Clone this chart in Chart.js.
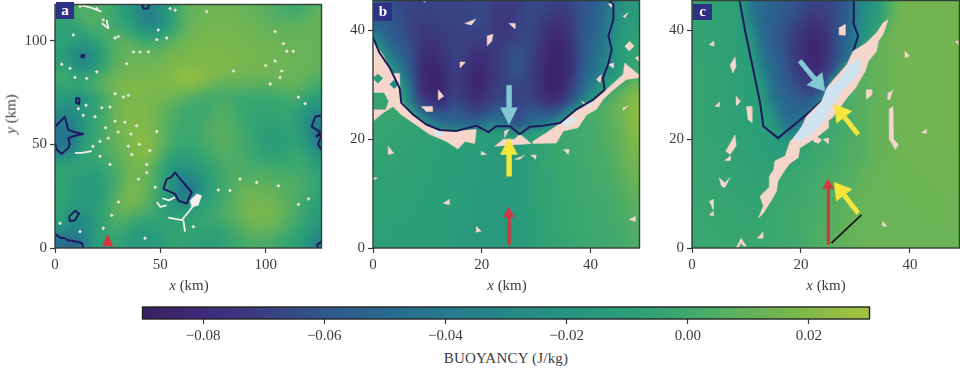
<!DOCTYPE html>
<html>
<head>
<meta charset="utf-8">
<title>Buoyancy panels</title>
<script src="https://cdn.jsdelivr.net/npm/chart.js@4"></script>
<style>
  html, body { margin: 0; padding: 0; background: #fff; }
  body { width: 960px; height: 369px; position: relative; overflow: hidden; font-family: "Liberation Serif", serif; color: #3c3c3c; filter: blur(0.4px); }
  .box { position: absolute; }
  .lab { position: absolute; font-size: 15px; white-space: nowrap; transform: translate(-50%, -50%); }
  .badge { position: absolute; background: #2e3184; color: #fff; font-weight: bold; font-size: 15px; text-align: center; }
</style>
</head>
<body>
<div class="box" style="left:0;top:0;width:330px;height:295px"><canvas id="panelA"></canvas></div>
<div class="box" style="left:330px;top:0;width:320px;height:295px"><canvas id="panelB"></canvas></div>
<div class="box" style="left:650px;top:0;width:310px;height:295px"><canvas id="panelC"></canvas></div>
<div class="box" style="left:100px;top:300px;width:800px;height:48px"><canvas id="cbar"></canvas></div>

<div class="badge" style="left:56px;top:2px;width:18px;height:17px;line-height:16px">a</div>
<div class="badge" style="left:374px;top:3px;width:18px;height:18px;line-height:17px">b</div>
<div class="badge" style="left:693px;top:4px;width:19px;height:16px;line-height:15px">c</div>
<div class="lab" style="left:189px;top:285px"><i>x</i> (km)</div>
<div class="lab" style="left:507px;top:285px"><i>x</i> (km)</div>
<div class="lab" style="left:826px;top:285px"><i>x</i> (km)</div>
<div class="lab" style="left:11px;top:114px;transform:translate(-50%,-50%) rotate(-90deg)"><i>y</i> (km)</div>
<div class="lab" style="left:506px;top:358px;letter-spacing:.2px">BUOYANCY (J/kg)</div>

<script>
// colour bar: value in 0.001 J/kg -> rgb
const cmapValues = [-90, -80, -70, -60, -50, -40, -30, -20, -10, 0, 10, 20, 30];
const cmapColors = [[56,33,98],[62,42,120],[58,62,130],[47,88,140],[40,105,142],[38,122,140],[37,135,135],[38,148,128],[42,158,120],[62,168,110],[100,178,90],[130,185,72],[165,195,60]];
const cbarTicks = [-0.08, -0.06, -0.04, -0.02, 0, 0.02];

// buoyancy grids, top row first, 0.001 J/kg
const aGrid = [
  [0,-3,5,5,3,-5,-15,-28,-35,-25,-8,5,10,12,14,14,12,10,8,6,2,0,3,8],
  [-5,-5,3,5,3,-3,-10,-25,-35,-28,-8,5,12,14,15,15,14,12,10,8,7,6,8,10],
  [-8,-8,-5,0,3,3,-2,-12,-18,-15,-2,8,14,16,16,16,15,14,12,10,10,9,10,10],
  [-8,-12,-15,-10,0,6,8,3,0,2,8,13,15,17,17,17,16,15,14,13,12,11,11,10],
  [-10,-22,-33,-22,-5,6,10,10,10,11,14,16,18,18,18,17,17,16,15,14,13,12,11,10],
  [-8,-18,-28,-18,-3,8,12,13,14,15,17,20,20,20,19,18,17,16,15,14,14,12,12,10],
  [0,-5,-8,-2,6,12,15,16,17,18,20,24,24,21,18,15,14,13,12,12,12,11,9,6],
  [-5,-6,-5,2,8,16,19,19,18,18,18,18,17,12,8,6,6,6,6,6,8,8,5,0],
  [-15,-18,-20,-8,3,12,17,18,16,15,12,8,4,2,2,2,0,-2,-2,-2,0,2,-5,-12],
  [-25,-25,-18,-8,2,12,18,19,17,12,6,2,0,0,3,4,0,-3,-4,-5,-3,-5,-15,-25],
  [-35,-35,-18,-5,3,12,18,20,17,10,4,0,0,2,5,5,1,-4,-6,-7,-5,-8,-22,-38],
  [-45,-42,-20,-5,4,12,18,21,18,10,3,0,0,3,6,6,2,-3,-8,-10,-8,-8,-22,-42],
  [-45,-40,-15,-3,4,10,16,22,20,10,2,-2,-2,2,5,6,3,-2,-8,-12,-10,-8,-15,-38],
  [-30,-25,-8,-3,3,8,14,20,19,6,-5,-8,-6,-2,3,5,3,0,-6,-8,-6,-3,-8,-20],
  [-8,-8,-6,-6,-2,5,12,16,12,0,-12,-18,-15,-8,-1,4,4,2,0,0,-2,0,-3,-10],
  [-5,-8,-12,-12,-6,2,12,14,8,-5,-20,-30,-25,-14,-4,2,5,5,5,4,3,3,0,-5],
  [-6,-10,-14,-14,-8,3,14,16,8,-5,-22,-42,-38,-18,-5,2,8,10,10,8,6,5,2,-5],
  [-6,-10,-14,-14,-6,6,16,14,6,-6,-18,-35,-28,-12,-3,3,10,14,14,12,8,5,0,-8],
  [-8,-15,-18,-12,-3,8,12,8,2,-6,-12,-15,-12,-6,0,5,10,16,17,15,10,4,-3,-10],
  [-12,-25,-28,-15,-3,4,2,-3,-5,-6,-8,-8,-6,-3,0,3,8,14,16,14,8,2,-5,-15],
  [-28,-32,-30,-15,-5,0,-5,-12,-12,-10,-6,-4,-6,-8,-8,-2,4,8,10,8,4,-3,-10,-22],
  [-48,-52,-40,-15,-8,-5,-10,-15,-14,-10,-6,-6,-8,-10,-10,-5,0,3,4,2,-3,-8,-15,-35]
];
const bGrid = [
  [-60,-62,-66,-68,-68,-68,-68,-68,-68,-66,-66,-70,-72,-70,-66,-66,-68,-70,-68,-62,-58,-50,-35,-20,-15],
  [-58,-60,-64,-68,-70,-70,-68,-68,-68,-66,-66,-72,-74,-70,-66,-68,-72,-74,-70,-62,-56,-48,-30,-18,-12],
  [-52,-58,-62,-68,-72,-72,-70,-70,-68,-68,-68,-72,-74,-70,-66,-70,-76,-78,-72,-62,-56,-46,-28,-15,-10],
  [-38,-55,-60,-66,-72,-74,-72,-70,-70,-70,-70,-72,-72,-68,-66,-72,-80,-82,-74,-62,-54,-44,-25,-12,-8],
  [-15,-45,-56,-64,-74,-78,-74,-70,-70,-74,-74,-72,-68,-64,-66,-74,-82,-85,-76,-62,-52,-42,-22,-12,-6],
  [-8,-28,-48,-62,-76,-80,-76,-70,-72,-78,-78,-72,-66,-62,-66,-74,-84,-86,-78,-62,-50,-38,-20,-10,-4],
  [-6,-12,-38,-58,-78,-84,-80,-72,-74,-82,-80,-72,-66,-62,-68,-76,-86,-86,-78,-60,-48,-34,-18,-8,-2],
  [-5,-8,-22,-52,-78,-86,-82,-72,-76,-84,-80,-72,-68,-66,-68,-76,-86,-86,-74,-56,-42,-22,-12,0,8],
  [-2,-3,-8,-46,-74,-84,-82,-70,-74,-82,-78,-70,-68,-68,-68,-74,-84,-82,-68,-50,-30,-10,3,10,18],
  [-2,-3,-5,-35,-66,-76,-76,-66,-70,-76,-72,-66,-66,-68,-66,-70,-76,-72,-58,-36,-8,2,8,14,22],
  [-2,-3,-5,-8,-45,-60,-62,-58,-62,-66,-62,-54,-58,-66,-60,-58,-60,-52,-20,-2,3,5,10,15,24],
  [-3,-4,-5,-6,-8,-35,-46,-48,-50,-50,-42,-36,-46,-62,-50,-42,-40,-10,-2,0,2,5,8,14,22],
  [-4,-5,-5,-6,-7,-8,-8,-8,-10,-10,-10,-12,-14,-18,-12,-8,-4,-2,0,1,2,4,8,13,20],
  [-5,-6,-6,-7,-8,-8,-9,-10,-10,-11,-12,-13,-14,-14,-11,-8,-4,-2,0,1,2,4,7,12,18],
  [-5,-6,-7,-7,-8,-9,-10,-10,-11,-12,-12,-14,-15,-14,-11,-7,-4,-2,-1,1,2,3,6,11,16],
  [-6,-6,-7,-8,-8,-9,-10,-11,-11,-12,-13,-14,-15,-13,-10,-7,-4,-2,-1,0,2,3,5,10,14],
  [-7,-7,-8,-8,-9,-9,-10,-11,-12,-12,-13,-15,-15,-13,-10,-7,-5,-2,-1,0,1,2,4,8,12],
  [-7,-8,-8,-8,-9,-10,-10,-11,-12,-13,-14,-15,-16,-14,-10,-7,-5,-3,-1,0,1,2,3,6,10],
  [-8,-8,-8,-9,-9,-10,-10,-11,-12,-13,-14,-15,-16,-14,-10,-7,-5,-3,-2,0,0,1,3,5,8],
  [-8,-8,-9,-9,-10,-10,-11,-11,-12,-13,-14,-15,-16,-14,-10,-8,-5,-3,-2,-1,0,1,2,4,7],
  [-8,-9,-9,-10,-10,-11,-11,-12,-12,-13,-14,-15,-16,-14,-11,-8,-6,-4,-2,-1,0,0,2,3,6],
  [-9,-9,-10,-10,-10,-11,-11,-12,-13,-14,-14,-15,-16,-14,-11,-8,-6,-4,-3,-1,0,0,1,2,5],
  [-9,-10,-10,-10,-11,-11,-12,-12,-13,-14,-15,-15,-16,-14,-11,-9,-6,-5,-3,-2,-1,0,1,2,4]
];
const cGrid = [
  [-6,-7,-7,-8,-10,-42,-50,-55,-58,-62,-66,-68,-68,-64,-58,-35,-22,-12,5,14,15,15,15,15,15],
  [-6,-7,-7,-8,-10,-40,-50,-55,-60,-64,-70,-72,-70,-64,-56,-32,-20,-10,6,14,15,15,15,15,15],
  [-5,-6,-7,-8,-10,-30,-50,-56,-62,-68,-74,-78,-72,-64,-54,-30,-20,-5,10,14,15,15,15,15,15],
  [-5,-6,-7,-8,-10,-20,-48,-56,-62,-70,-78,-82,-76,-64,-52,-30,-12,8,12,14,15,15,15,15,15],
  [-5,-6,-7,-8,-10,-14,-44,-54,-62,-72,-80,-84,-78,-64,-50,-28,4,10,12,14,15,15,15,15,15],
  [-5,-6,-7,-8,-10,-12,-40,-52,-60,-70,-78,-82,-76,-62,-45,0,8,10,12,14,15,15,15,15,15],
  [-4,-5,-6,-8,-9,-11,-32,-50,-58,-68,-76,-80,-72,-55,0,6,8,10,12,14,15,15,15,15,15],
  [-4,-5,-6,-8,-9,-10,-20,-48,-56,-64,-72,-74,-62,-5,4,6,8,10,12,14,15,15,15,15,15],
  [-4,-5,-6,-7,-8,-10,-14,-44,-54,-60,-66,-64,-50,0,4,6,8,10,12,14,15,15,15,15,15],
  [-4,-5,-6,-7,-8,-10,-12,-38,-50,-54,-56,-50,-10,0,3,6,8,10,12,14,15,15,15,15,15],
  [-4,-5,-6,-7,-8,-9,-11,-25,-46,-50,-48,-35,-5,1,3,6,8,10,12,14,15,15,15,15,15],
  [-4,-5,-6,-7,-8,-9,-11,-14,-40,-44,-35,-10,-2,1,3,6,8,10,12,14,14,15,15,15,15],
  [-4,-5,-6,-7,-8,-9,-10,-12,-22,-30,-8,-4,-1,1,3,5,8,10,12,13,14,14,15,15,15],
  [-3,-4,-5,-6,-7,-8,-10,-11,-14,-10,-6,-2,0,2,4,5,8,10,12,13,14,14,14,15,15],
  [-3,-4,-5,-6,-7,-8,-9,-10,-10,-8,-4,-1,1,2,4,5,8,10,12,13,14,14,14,14,14],
  [-3,-4,-5,-6,-6,-7,-8,-8,-5,-3,-1,0,2,3,5,7,9,11,12,13,13,14,14,14,14],
  [-3,-4,-5,-5,-6,-7,-7,-6,-3,-2,0,1,3,4,6,8,10,11,12,13,13,13,14,14,14],
  [-3,-4,-4,-5,-5,-6,-6,-4,-2,-1,0,2,3,5,7,9,11,12,12,13,13,13,13,14,14],
  [-3,-3,-4,-4,-5,-5,-5,-2,-1,0,1,2,4,6,8,10,11,12,12,12,13,13,13,13,13],
  [-2,-3,-3,-4,-4,-5,-5,-1,0,1,1,3,5,7,9,10,11,12,12,12,12,13,13,13,13],
  [-2,-3,-3,-4,-4,-4,-3,-1,0,1,2,3,5,7,9,11,11,12,12,12,12,12,13,13,13],
  [-2,-2,-3,-3,-3,-3,-2,-1,0,1,2,4,6,8,10,11,11,12,12,12,12,12,12,12,13],
  [-2,-2,-2,-3,-3,-2,-2,-1,0,1,2,4,6,8,10,11,12,12,12,12,12,12,12,12,12]
];

// panel a, km
const aContours = [
  [[0,58.5],[2.5,61],[4.7,63.3],[5.5,60],[6.3,57],[9,56],[13.4,55],[9,54],[6.3,53],[7,50],[6.3,48.3],[3.2,45.4],[0.8,47.5],[0,50.6]],
  [[51.4,28.5],[53,33.2],[55,34],[57,36.4],[60.2,32.4],[64.9,26.9],[63.5,24],[62.5,21.4],[58.5,22.9],[57,26.1],[51.4,28.5]],
  [[6.6,15],[9.5,17.9],[11.4,16.6],[9.5,13.4],[7.1,13],[6.6,15]],
  [[0,6.8],[2.5,5],[4.7,4.7],[6.5,3.6],[9.5,3.2],[12.7,2.4],[13.4,0]],
  [[41,118],[42,115.5],[44,115.5],[45,118]],
  [[10,72.5],[11.6,72],[11.5,69.5],[10,70],[10,72.5]],
  [[12.6,93.2],[13.8,93],[13.6,92],[12.6,92],[12.6,93.2]],
  [[126.7,64],[123.4,63.3],[121.8,58.5],[125.8,56],[124.2,53.8],[126.7,55],[124.8,50],[126.7,47]],
  [[124.5,0],[124.5,1.6],[126.7,3.2]]
];
const aFlecksX = [11.9,19.8,22.9,28.5,30,8.7,34,37.2,40.3,44.3,48.3,53,54.6,57,49,9.5,15,19.8,7.1,3.2,28.5,32.4,34.8,26.1,22.2,11.1,14.7,13.4,19,28.5,33.2,38.8,48.3,25.3,21.4,34.8,36.4,43.5,21.4,26.1,108.4,104.4,110,113.1,104.4,102.1,107.6,106.8,84.7,115.5,118.7,106,115.5,120.3,77.5,87.8,83,95.7,43.5,39.6,47.5,30.1,26.9,22.9,2.4,11.9,42.7,65.7,36,40,30,45,24,18,72,100];
const aFlecksY = [116.6,115.5,110,101.3,102,102.8,88.9,94.6,94.6,94.6,100.5,101.3,115.5,114.7,105.2,82.3,81.8,85,86.6,88.6,74.4,72.8,73.6,68,67.6,67.2,68.8,64,63.3,61.2,60.6,59,56.2,53,51.4,49.1,45.1,40.3,44.3,40.3,98.6,104.4,94.9,94.9,90.2,79.1,85.4,82.3,85.4,72.8,69.6,30,21,23.7,28,33.2,27.7,31.6,36.4,33.2,29.3,22.2,15.8,9.5,11.9,7.9,4.7,10.3,55,50,56,47,58,49,114,88];
const aSquiggles = [
  [[24.5,110],[25.3,106],[22.2,108.4]],
  [[12.7,117],[17,116],[22,114]],
  [[9.5,45.9],[12.7,45.9],[17.4,46.7]],
  [[48.3,22.2],[50,19.8],[53,20.6]],
  [[53.8,14.7],[60.1,13.4],[64,18.2],[66.5,21.4]],
  [[60.9,13.4],[61.7,7.9]],
  [[51,24],[54,23],[57,24.5]]
];
const aBlob = [[64.1,22.9],[67.2,26.1],[69.6,25.3],[68,20.6],[64.9,19.8]];

// panel b, km
const bContour = [[0,38.7],[1.2,35.9],[3.1,33.1],[4.9,29.4],[5.2,26.7],[7.4,24.5],[9.8,22.7],[12.3,21.7],[15.3,21.5],[19,22.5],[21.2,21.3],[22.7,22.4],[25.2,22.4],[27,20.9],[28.8,22.3],[31.3,22.5],[34.4,23],[37.4,25.5],[40.5,27.3],[42.6,29.1],[42.3,31.3],[43.3,34],[43.9,36.5],[43.3,39],[44.2,42],[44.2,44.8],[43.3,45.7]];
const bBand = [
  [[0,38],[1.8,35.6],[3.1,33.1],[3.7,32.1],[4.9,32.1],[5,27.3],[7.4,24.5],[9.8,22.7],[12.3,21.7],[15.3,21.5],[19,21.8],[18.7,19.2],[16.9,19.6],[15.6,18.2],[13.5,19.6],[10.4,20.9],[7.4,23],[5.2,24.5],[3.7,26],[1.8,24.8],[0,23.3]],
  [[22.4,18.7],[24,20],[26,20],[27,20.9],[29.1,19.2]],
  [[24.2,21.5],[25,21.8],[24.2,20.3]],
  [[29.4,19.6],[31.9,21.2],[34.4,22.9],[37.4,25.2],[40.5,27],[42.9,29.1],[46,31.9],[46.3,34],[48.8,31.9],[48.8,31.3],[46.6,31],[44.2,29.1],[42.3,27.3],[41.1,25.5],[39.3,24.5],[37.7,22.1],[35,21.5],[33.7,19.3],[29.4,19.2]]
];
const bPale = [
  [[34.5,22.8],[36.5,24],[37.5,24],[36,22.2]],
  [[11,21.5],[12.5,21.5],[13,20.8],[11.5,20.6]],
  [[39,26.5],[40.5,26.8],[40,25.8]]
];
const bHoles = [
  [[0,31.2],[0.9,32],[1.8,31.2],[0.9,30.3]],
  [[3.1,30.1],[3.9,30.9],[4.7,30.1],[3.9,29.3]],
  [[0,28.5],[2,28.5],[2.8,27],[2.3,25.5],[0,25.5]]
];
const bHoleValues = [-15, -28, -4];
const bSpots = [
  [[16.9,41.3],[18.9,42.1],[18.1,41]],
  [[25,41.3],[26.1,41.3],[26.1,40.3]],
  [[21,39],[22.1,39.3],[21.8,38],[21,37.2]],
  [[16,34.2],[17,34.2],[16,33.1]],
  [[12,29.1],[13,27.9],[12,27.2]],
  [[8.9,26],[10.9,26],[10.9,25.1],[9.8,25.1]],
  [[8.9,45.7],[9.8,45.7],[9.5,45.2]],
  [[43.3,44.8],[44.2,45.2],[43.9,44.2]],
  [[46,42.6],[46.9,43.3],[46.3,42.3]],
  [[46.3,37.1],[47.2,38],[48,37.1],[47.1,36.2]],
  [[48.2,35],[48.8,35.2],[48.8,34.4]],
  [[43.3,33.7],[44.2,34],[44.2,33.1]],
  [[41.1,31],[42,31.9],[41.8,30.4]],
  [[38.3,27],[39.9,26.2],[39.3,25.8]],
  [[46,25.8],[46.9,26.1],[46,25.3]],
  [[2.8,18.7],[3.8,17.4],[2.9,17.2]],
  [[19.9,17.8],[20.9,17.2],[19.9,17.1]],
  [[26.1,16.3],[27.9,17.1],[27,16.3]],
  [[29,17.1],[30,17.1],[29.9,16.3]],
  [[35,18.1],[36.1,18.1],[35.9,17.2]],
  [[0,12.9],[0.8,12.9],[0,12.4]],
  [[12.9,8.2],[14,8.9],[14,8]],
  [[19,4],[19.9,3.1],[19,2.9]],
  [[47.1,5.2],[48.2,5.8],[48.2,4.9]]
];

// panel c, km
const cContour = [[8.7,45.7],[9.7,40.2],[12.5,26.7],[13.1,22.4],[15.8,20.2],[21,24.5],[24.1,27.3]];
const cContour2 = [[29.6,36.2],[30.5,39],[29.6,41.4],[29.7,45.7]];
const cBand = [[12.2,5.5],[13.1,7.7],[12.5,9.5],[14.3,11.3],[14.2,13.2],[15,14.4],[15.2,16],[17.1,16.9],[18,19.6],[19.8,21.5],[21,24.2],[24.1,27.3],[25,29.8],[28.4,33.7],[29.6,36.2],[32,37.7],[33.9,39.6],[35.1,41.4],[36,42],[35.1,39.3],[34.2,38],[33.9,36.2],[32.4,34.4],[31.8,32.5],[30,29.4],[28.6,27.8],[27,25.6],[25.8,24],[25,23.4],[25,22],[23.2,20.6],[21.7,19.6],[19.8,18.4],[19.5,16.6],[18,15.6],[17.1,14.4],[15.8,12.3],[15.5,10.4],[14.3,8.3],[13.1,6.4]];
const cCore = [[18.6,20.2],[21,23.5],[23.6,26.5],[24.8,29.5],[27,31],[28.8,33.8],[30.8,35],[31,33],[29.8,31],[27.8,29.2],[26,26.6],[24.6,23.8],[22.6,21.4],[19.8,19.6]];
const cSpots = [
  [[3.2,37.4],[3.9,38],[4,37.1]],
  [[7,33.7],[7.9,35.1],[8.1,33.4],[7.5,32.2]],
  [[4.2,26],[5,26.8],[5,26]],
  [[8.1,27.9],[8.9,27],[8.2,26.2]],
  [[10,26],[11,26],[11,23.1],[10.3,23.6]],
  [[6.2,17.8],[7.9,20.8],[8.1,18.8],[7,17.2]],
  [[6,16.1],[7,16.9],[7,16.1]],
  [[5,12.9],[6,12],[7,12.9],[6,11.1],[5.4,11.4]],
  [[3.2,8.6],[3.9,8.9],[3.9,7.1]],
  [[3.2,6.1],[3.9,6.7],[3.9,5.9]],
  [[8.1,0],[9,1.8],[10,0.3],[9.4,0.4],[9,0.9],[8.5,0]],
  [[12,1.8],[13,2.9],[13,1.8]],
  [[27,40.5],[28.1,41.1],[28.1,39.1],[27,39.2]],
  [[32,29.1],[33,29.1],[33,28.2],[32,27.3]],
  [[36,28.5],[36.9,29],[36.3,27.3],[35.9,27.3]],
  [[36.2,25.5],[36.9,26],[37,20],[37.9,19],[37.3,18.1],[36.3,19.9]],
  [[42.1,21.2],[43,21.8],[43,21.1]],
  [[39.1,36.2],[39.9,35.3],[39.1,35]],
  [[48.3,38],[49,38],[49,37.4]],
  [[35,4.9],[35.8,4],[35,4]],
  [[22.3,20.8],[23.8,19.9],[23.2,19.2],[22.3,19.6]],
  [[24.1,20],[25,20.2],[25,19.2]]
];
const cSegment = [[25.6,0.9],[31.1,6.1]];

// arrows: tail, tip, head length, head half width, shaft half width (km)
const aArrows = [{ tail: [25,1], tip: [25,6.5], head: 5.5, hw: 2.4, sw: 0.8, color: "#d8323c" }];
const bArrows = [
  { tail: [25,29.9], tip: [25,22.7], head: 3.1, hw: 1.55, sw: 0.42, color: "#84c8d4" },
  { tail: [25,13.2], tip: [25,20.2], head: 3, hw: 1.55, sw: 0.42, color: "#f4e63c" },
  { tail: [25,0.6], tip: [25,7.5], head: 1.8, hw: 1, sw: 0.22, color: "#cf3a40" }
];
const cArrows = [
  { tail: [25,0.6], tip: [25,12.7], head: 1.8, hw: 1, sw: 0.22, color: "#cf3a40" },
  { tail: [30.5,6.4], tip: [26.1,12.1], head: 3, hw: 1.8, sw: 0.42, color: "#f4e63c" },
  { tail: [30.5,20.9], tip: [26.1,26.4], head: 3, hw: 1.8, sw: 0.42, color: "#f4e63c" },
  { tail: [19.8,34.4], tip: [24.4,28.8], head: 3, hw: 1.8, sw: 0.42, color: "#84c8d4" }
];

const PINK = "#f6d5ca";
const NAVY = "#1d1a5e";
const INK = "#333f36";

function cmap(v) {
  let i = 0;
  while (i < cmapValues.length - 2 && v > cmapValues[i + 1]) i++;
  const t = Math.min(1, Math.max(0, (v - cmapValues[i]) / (cmapValues[i + 1] - cmapValues[i])));
  return cmapColors[i].map((c, k) => Math.round(c + (cmapColors[i + 1][k] - c) * t));
}
function rgb(v) { return "rgb(" + cmap(v).join(",") + ")"; }
function toXY(pts) { return pts.map((p) => ({ x: p[0], y: p[1] })); }

function arrowShape(a) {
  const dx = a.tip[0] - a.tail[0], dy = a.tip[1] - a.tail[1];
  const len = Math.hypot(dx, dy), ux = dx / len, uy = dy / len, nx = -uy, ny = ux;
  const bx = a.tip[0] - ux * a.head, by = a.tip[1] - uy * a.head;
  return [
    [a.tail[0] + nx * a.sw, a.tail[1] + ny * a.sw],
    [bx + nx * a.sw, by + ny * a.sw],
    [bx + nx * a.hw, by + ny * a.hw],
    a.tip,
    [bx - nx * a.hw, by - ny * a.hw],
    [bx - nx * a.sw, by - ny * a.sw],
    [a.tail[0] - nx * a.sw, a.tail[1] - ny * a.sw]
  ];
}

function filled(pts, color) {
  const closed = pts.concat([pts[0]]);
  return { data: toXY(closed), showLine: true, fill: "shape", backgroundColor: color, borderColor: color, borderWidth: 0.5, pointRadius: 0, tension: 0 };
}
function stroked(pts, color, width) {
  return { data: toXY(pts), showLine: true, fill: false, borderColor: color, borderWidth: width, pointRadius: 0, tension: 0, borderJoinStyle: "round" };
}

// the heat field goes under the datasets, placed by the chart scales
const heatPlugin = {
  id: "heat",
  beforeDatasetsDraw(chart, args, opts) {
    const grid = opts.grid;
    if (!grid) return;
    const rows = grid.length, cols = grid[0].length;
    const off = document.createElement("canvas");
    off.width = cols; off.height = rows;
    const octx = off.getContext("2d");
    const img = octx.createImageData(cols, rows);
    for (let r = 0; r < rows; r++) {
      for (let c = 0; c < cols; c++) {
        const col = cmap(grid[r][c]), p = (r * cols + c) * 4;
        img.data[p] = col[0]; img.data[p + 1] = col[1]; img.data[p + 2] = col[2]; img.data[p + 3] = 255;
      }
    }
    octx.putImageData(img, 0, 0);
    const x = chart.scales.x, y = chart.scales.y;
    const left = x.getPixelForValue(x.min), right = x.getPixelForValue(x.max);
    const top = y.getPixelForValue(y.max), bottom = y.getPixelForValue(y.min);
    const ctx = chart.ctx;
    ctx.save();
    ctx.imageSmoothingEnabled = true;
    ctx.imageSmoothingQuality = "high";
    ctx.drawImage(off, left, top, right - left, bottom - top);
    ctx.restore();
  },
  afterDatasetsDraw(chart) {
    const a = chart.chartArea, ctx = chart.ctx;
    ctx.save();
    ctx.strokeStyle = INK;
    ctx.lineWidth = 1.4;
    ctx.strokeRect(a.left, a.top + 0.5, a.right - a.left - 0.5, a.bottom - a.top - 0.5);
    ctx.restore();
  }
};

function makePanel(id, grid, xMax, yMax, ticks, axisWidth, padRight, layers) {
  // painter's order in, chart.js draws the first dataset on top
  const datasets = layers.slice().reverse();
  return new Chart(document.getElementById(id), {
    type: "scatter",
    data: { datasets: datasets },
    plugins: [heatPlugin],
    options: {
      responsive: true,
      maintainAspectRatio: false,
      animation: false,
      layout: { padding: { right: padRight, top: 0, bottom: 0, left: 0 } },
      plugins: { legend: { display: false }, tooltip: { enabled: false }, heat: { grid: grid } },
      scales: {
        x: {
          type: "linear", min: 0, max: xMax,
          grid: { drawOnChartArea: false, drawTicks: true, tickLength: 5, tickColor: INK, tickWidth: 1.2 },
          border: { display: false },
          afterBuildTicks: (s) => { s.ticks = ticks.map((v) => ({ value: v })); },
          afterFit: (s) => { s.height = 47; s.paddingLeft = 0; s.paddingRight = 0; },
          ticks: { color: "#3c3c3c", font: { family: "Liberation Serif", size: 15 }, padding: 3, maxRotation: 0 }
        },
        y: {
          type: "linear", min: 0, max: yMax,
          grid: { drawOnChartArea: false, drawTicks: true, tickLength: 5, tickColor: INK, tickWidth: 1.2 },
          border: { display: false },
          afterBuildTicks: (s) => { s.ticks = ticks.map((v) => ({ value: v })); },
          afterFit: (s) => { s.width = axisWidth; s.paddingTop = 0; s.paddingBottom = 0; },
          ticks: { color: "#3c3c3c", font: { family: "Liberation Serif", size: 15 }, padding: 3 }
        }
      }
    }
  });
}

// panel a
const aLayers = [];
aLayers.push({ data: aFlecksX.map((x, i) => ({ x: x, y: aFlecksY[i] })), pointStyle: "rectRot", pointRadius: 1.9, pointBackgroundColor: "#e9e6d8", pointBorderWidth: 0, showLine: false });
aSquiggles.forEach((s) => aLayers.push(stroked(s, "#f0f0ea", 1.8)));
aLayers.push(filled(aBlob, "#f3f0ea"));
aContours.forEach((c) => aLayers.push(stroked(c, NAVY, 2)));
aArrows.forEach((a) => aLayers.push(filled(arrowShape(a), a.color)));
makePanel("panelA", aGrid, 126.7, 117.7, [0, 50, 100], 55, 8, aLayers);

// panel b
const bLayers = [];
bBand.forEach((p) => bLayers.push(filled(p, PINK)));
bPale.forEach((p) => bLayers.push(filled(p, "#d8e6ee")));
bHoles.forEach((p, i) => bLayers.push(filled(p, rgb(bHoleValues[i]))));
bSpots.forEach((p) => bLayers.push(filled(p, PINK)));
bLayers.push(stroked(bContour, NAVY, 2));
bArrows.forEach((a) => bLayers.push(filled(arrowShape(a), a.color)));
makePanel("panelB", bGrid, 49.1, 45.6, [0, 20, 40], 43, 10, bLayers);

// panel c
const cLayers = [];
cLayers.push(stroked(cContour, NAVY, 2));
cLayers.push(stroked(cContour2, NAVY, 2));
cLayers.push(filled(cBand, PINK));
cLayers.push(filled(cCore, "#cfe3ef"));
cSpots.forEach((p) => cLayers.push(filled(p, PINK)));
cLayers.push(stroked(cSegment, "#111", 1.6));
cArrows.forEach((a) => cLayers.push(filled(arrowShape(a), a.color)));
makePanel("panelC", cGrid, 49.2, 45.6, [0, 20, 40], 42, 0, cLayers);

// colour bar
const cbarPlugin = {
  id: "cbarFill",
  beforeDatasetsDraw(chart) {
    const a = chart.chartArea, x = chart.scales.x, ctx = chart.ctx;
    const g = ctx.createLinearGradient(a.left, 0, a.right, 0);
    cmapValues.forEach((v) => {
      g.addColorStop((x.getPixelForValue(v / 1000) - a.left) / (a.right - a.left), rgb(v));
    });
    ctx.save();
    ctx.fillStyle = g;
    ctx.fillRect(a.left, a.top, a.right - a.left, a.bottom - a.top);
    ctx.strokeStyle = "#222";
    ctx.lineWidth = 1.4;
    ctx.strokeRect(a.left, a.top, a.right - a.left, a.bottom - a.top);
    ctx.restore();
  }
};
new Chart(document.getElementById("cbar"), {
  type: "scatter",
  data: { datasets: [{ data: [] }] },
  plugins: [cbarPlugin],
  options: {
    responsive: true,
    maintainAspectRatio: false,
    animation: false,
    layout: { padding: { left: 42.5, right: 30.5, top: 7, bottom: 0 } },
    plugins: { legend: { display: false }, tooltip: { enabled: false } },
    scales: {
      x: {
        type: "linear", min: -0.09, max: 0.03,
        grid: { drawOnChartArea: false, drawTicks: true, tickLength: 5, tickColor: INK, tickWidth: 1.2 },
        border: { display: false },
        afterBuildTicks: (s) => { s.ticks = cbarTicks.map((v) => ({ value: v })); },
        afterFit: (s) => { s.height = 29; s.paddingLeft = 0; s.paddingRight = 0; },
        ticks: {
          color: "#3c3c3c", font: { family: "Liberation Serif", size: 15 }, padding: 3, maxRotation: 0,
          callback: (v) => (v < -1e-9 ? "\u2212" : "") + Math.abs(v).toFixed(2)
        }
      },
      y: { display: false, min: 0, max: 1 }
    }
  }
});
</script>
</body>
</html>
